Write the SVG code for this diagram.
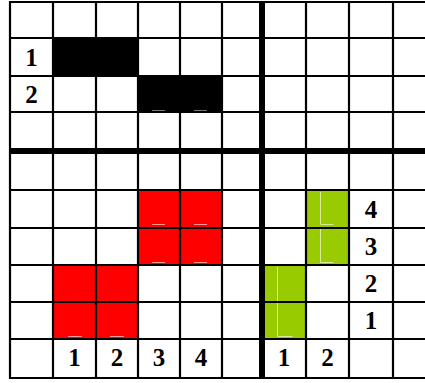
<svg xmlns="http://www.w3.org/2000/svg" width="425" height="383" viewBox="0 0 425 383">
<style>
.grid line{stroke:#000;stroke-width:2.2}
.grid line.thick{stroke-width:6}
.blk{fill:#000}
.red{fill:#ff0000}
.grn{fill:#99cc00}
.mk{stroke-width:1;fill:none}
</style>
<rect width="425" height="383" fill="#fff"/>
<g id="fills">
<rect class="blk" x="53" y="38" width="85" height="38"/>
<rect class="blk" x="138" y="76" width="84" height="36"/>
<rect class="red" x="138" y="190" width="84" height="75"/>
<rect class="red" x="53" y="265" width="85" height="74"/>
<rect class="grn" x="306" y="190" width="43" height="75"/>
<rect class="grn" x="262" y="265" width="44" height="74"/>
</g>
<g id="marks">
<path class="mk" stroke="#777" d="M152 110.5h13M194 110.5h13"/>
<path class="mk" stroke="#f99" d="M152 224.5h13M194 224.5h13M152 262.5h13M194 262.5h13M68 336.5h14M110 336.5h14"/>
<path class="mk" stroke="#d6ec99" d="M320.5 192v32.5h13M320.5 229v33.5h13M277.5 267v69.5h15"/>
</g>
<g id="connectors" class="grid">
<line x1="9" y1="2" x2="425" y2="2"/>
<line x1="9" y1="38" x2="425" y2="38"/>
<line x1="9" y1="76" x2="425" y2="76"/>
<line x1="9" y1="112" x2="425" y2="112"/>
<line class="thick" x1="9" y1="151" x2="425" y2="151"/>
<line x1="9" y1="190" x2="425" y2="190"/>
<line x1="9" y1="228" x2="425" y2="228"/>
<line x1="9" y1="265" x2="425" y2="265"/>
<line x1="9" y1="302" x2="425" y2="302"/>
<line x1="9" y1="339" x2="425" y2="339"/>
<line x1="9" y1="378" x2="425" y2="378"/>
<line x1="10" y1="1" x2="10" y2="379"/>
<line x1="53" y1="1" x2="53" y2="379"/>
<line x1="96" y1="1" x2="96" y2="379"/>
<line x1="138" y1="1" x2="138" y2="379"/>
<line x1="180" y1="1" x2="180" y2="379"/>
<line x1="222" y1="1" x2="222" y2="379"/>
<line class="thick" x1="262" y1="1" x2="262" y2="379"/>
<line x1="306" y1="1" x2="306" y2="379"/>
<line x1="349" y1="1" x2="349" y2="379"/>
<line x1="393" y1="1" x2="393" y2="379"/>
</g>
<g id="labels" font-family="Liberation Serif, Times New Roman, serif" font-weight="bold" font-size="25" text-anchor="middle" fill="#000">
<g id="row-labels">
<text x="31.5" y="66">1</text>
<text x="31.5" y="103">2</text>
</g>
<g id="col-labels-left">
<text x="74.5" y="366">1</text>
<text x="117" y="366">2</text>
<text x="159" y="366">3</text>
<text x="201" y="366">4</text>
</g>
<g id="col-labels-right">
<text x="284" y="366">1</text>
<text x="327.5" y="366">2</text>
</g>
<g id="side-labels">
<text x="371" y="218">4</text>
<text x="371" y="255">3</text>
<text x="371" y="292">2</text>
<text x="371" y="329">1</text>
</g>
</g>
</svg>
